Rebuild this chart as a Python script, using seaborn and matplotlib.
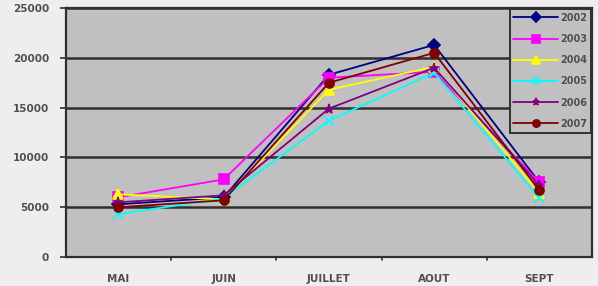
import seaborn as sns
import pandas as pd
import matplotlib.pyplot as plt

# data
months = ["MAI", "JUIN", "JUILLET", "AOUT", "SEPT"]
years = ["2002", "2003", "2004", "2005", "2006", "2007"]
v2002 = [5300, 6000, 18300, 21300, 7500]
v2003 = [6000, 7800, 18000, 18600, 7500]
v2004 = [6300, 5800, 16800, 19100, 6400]
v2005 = [4300, 5900, 13700, 18500, 5900]
v2006 = [5500, 6200, 14900, 19000, 7200]
v2007 = [5000, 5700, 17500, 20500, 6700]
yticks = [0, 5000, 10000, 15000, 20000, 25000]

colors = ["#000080", "#FF00FF", "#FFFF00", "#00FFFF", "#800080", "#800000"]
marks = ["D", "s", "^", "x", "*", "o"]

rows = []
for y, vals in zip(years, [v2002, v2003, v2004, v2005, v2006, v2007]):
    for m, v in zip(months, vals):
        rows.append({"month": m, "year": y, "value": v})
df = pd.DataFrame(rows)

sns.set_style("white")
plt.rcParams["font.family"] = ["DejaVu Sans"]

fig = plt.figure(figsize=(5.98, 2.86), dpi=100)
fig.patch.set_facecolor("#EEEEEE")
ax = fig.add_axes([0.110, 0.101, 0.880, 0.871])
ax.set_facecolor("#C0C0C0")

for y, c, mk in zip(years, colors, marks):
    sub = df[df["year"] == y]
    sns.lineplot(data=sub, x="month", y="value", color=c, marker=mk,
                 sort=False, linewidth=1.3, markersize=6.5, markeredgewidth=1.2,
                 markeredgecolor=c, label=y, ax=ax, zorder=3)

# black-ish horizontal gridlines
for t in yticks:
    ax.axhline(t, color="#303030", lw=1.8, zorder=1)

ax.set_ylim(0, 25000)
ax.set_xlim(-0.5, 4.5)
ax.set_yticks(yticks)
ax.set_yticklabels([str(t) for t in yticks], fontsize=7.5, fontweight="bold",
                   color="#505050")
ax.set_xticks(range(len(months)))
ax.set_xticklabels(months, fontsize=7.5, fontweight="bold", color="#505050")
ax.tick_params(axis="x", length=0, pad=12)
ax.tick_params(axis="y", length=4, width=1.2, color="#303030", pad=8, left=True)
for b in [0.5, 1.5, 2.5, 3.5]:
    ax.plot([b, b], [0, -250], color="#303030", lw=1.2, clip_on=False)
ax.set_xlabel("")
ax.set_ylabel("")

for s in ax.spines.values():
    s.set_color("#303030")
    s.set_linewidth(1.6)

leg = ax.legend(title=None, loc="upper right", fontsize=7, frameon=True,
                facecolor="#C0C0C0", edgecolor="#303030", framealpha=1,
                handlelength=4.6, labelspacing=1.15, borderaxespad=0.1,
                handletextpad=0.2, fancybox=False, markerscale=0.8)
leg.get_frame().set_linewidth(1.4)
for txt in leg.get_texts():
    txt.set_color("#505050")
    txt.set_fontweight("bold")

fig.savefig("out.png", dpi=100, facecolor=fig.get_facecolor())
